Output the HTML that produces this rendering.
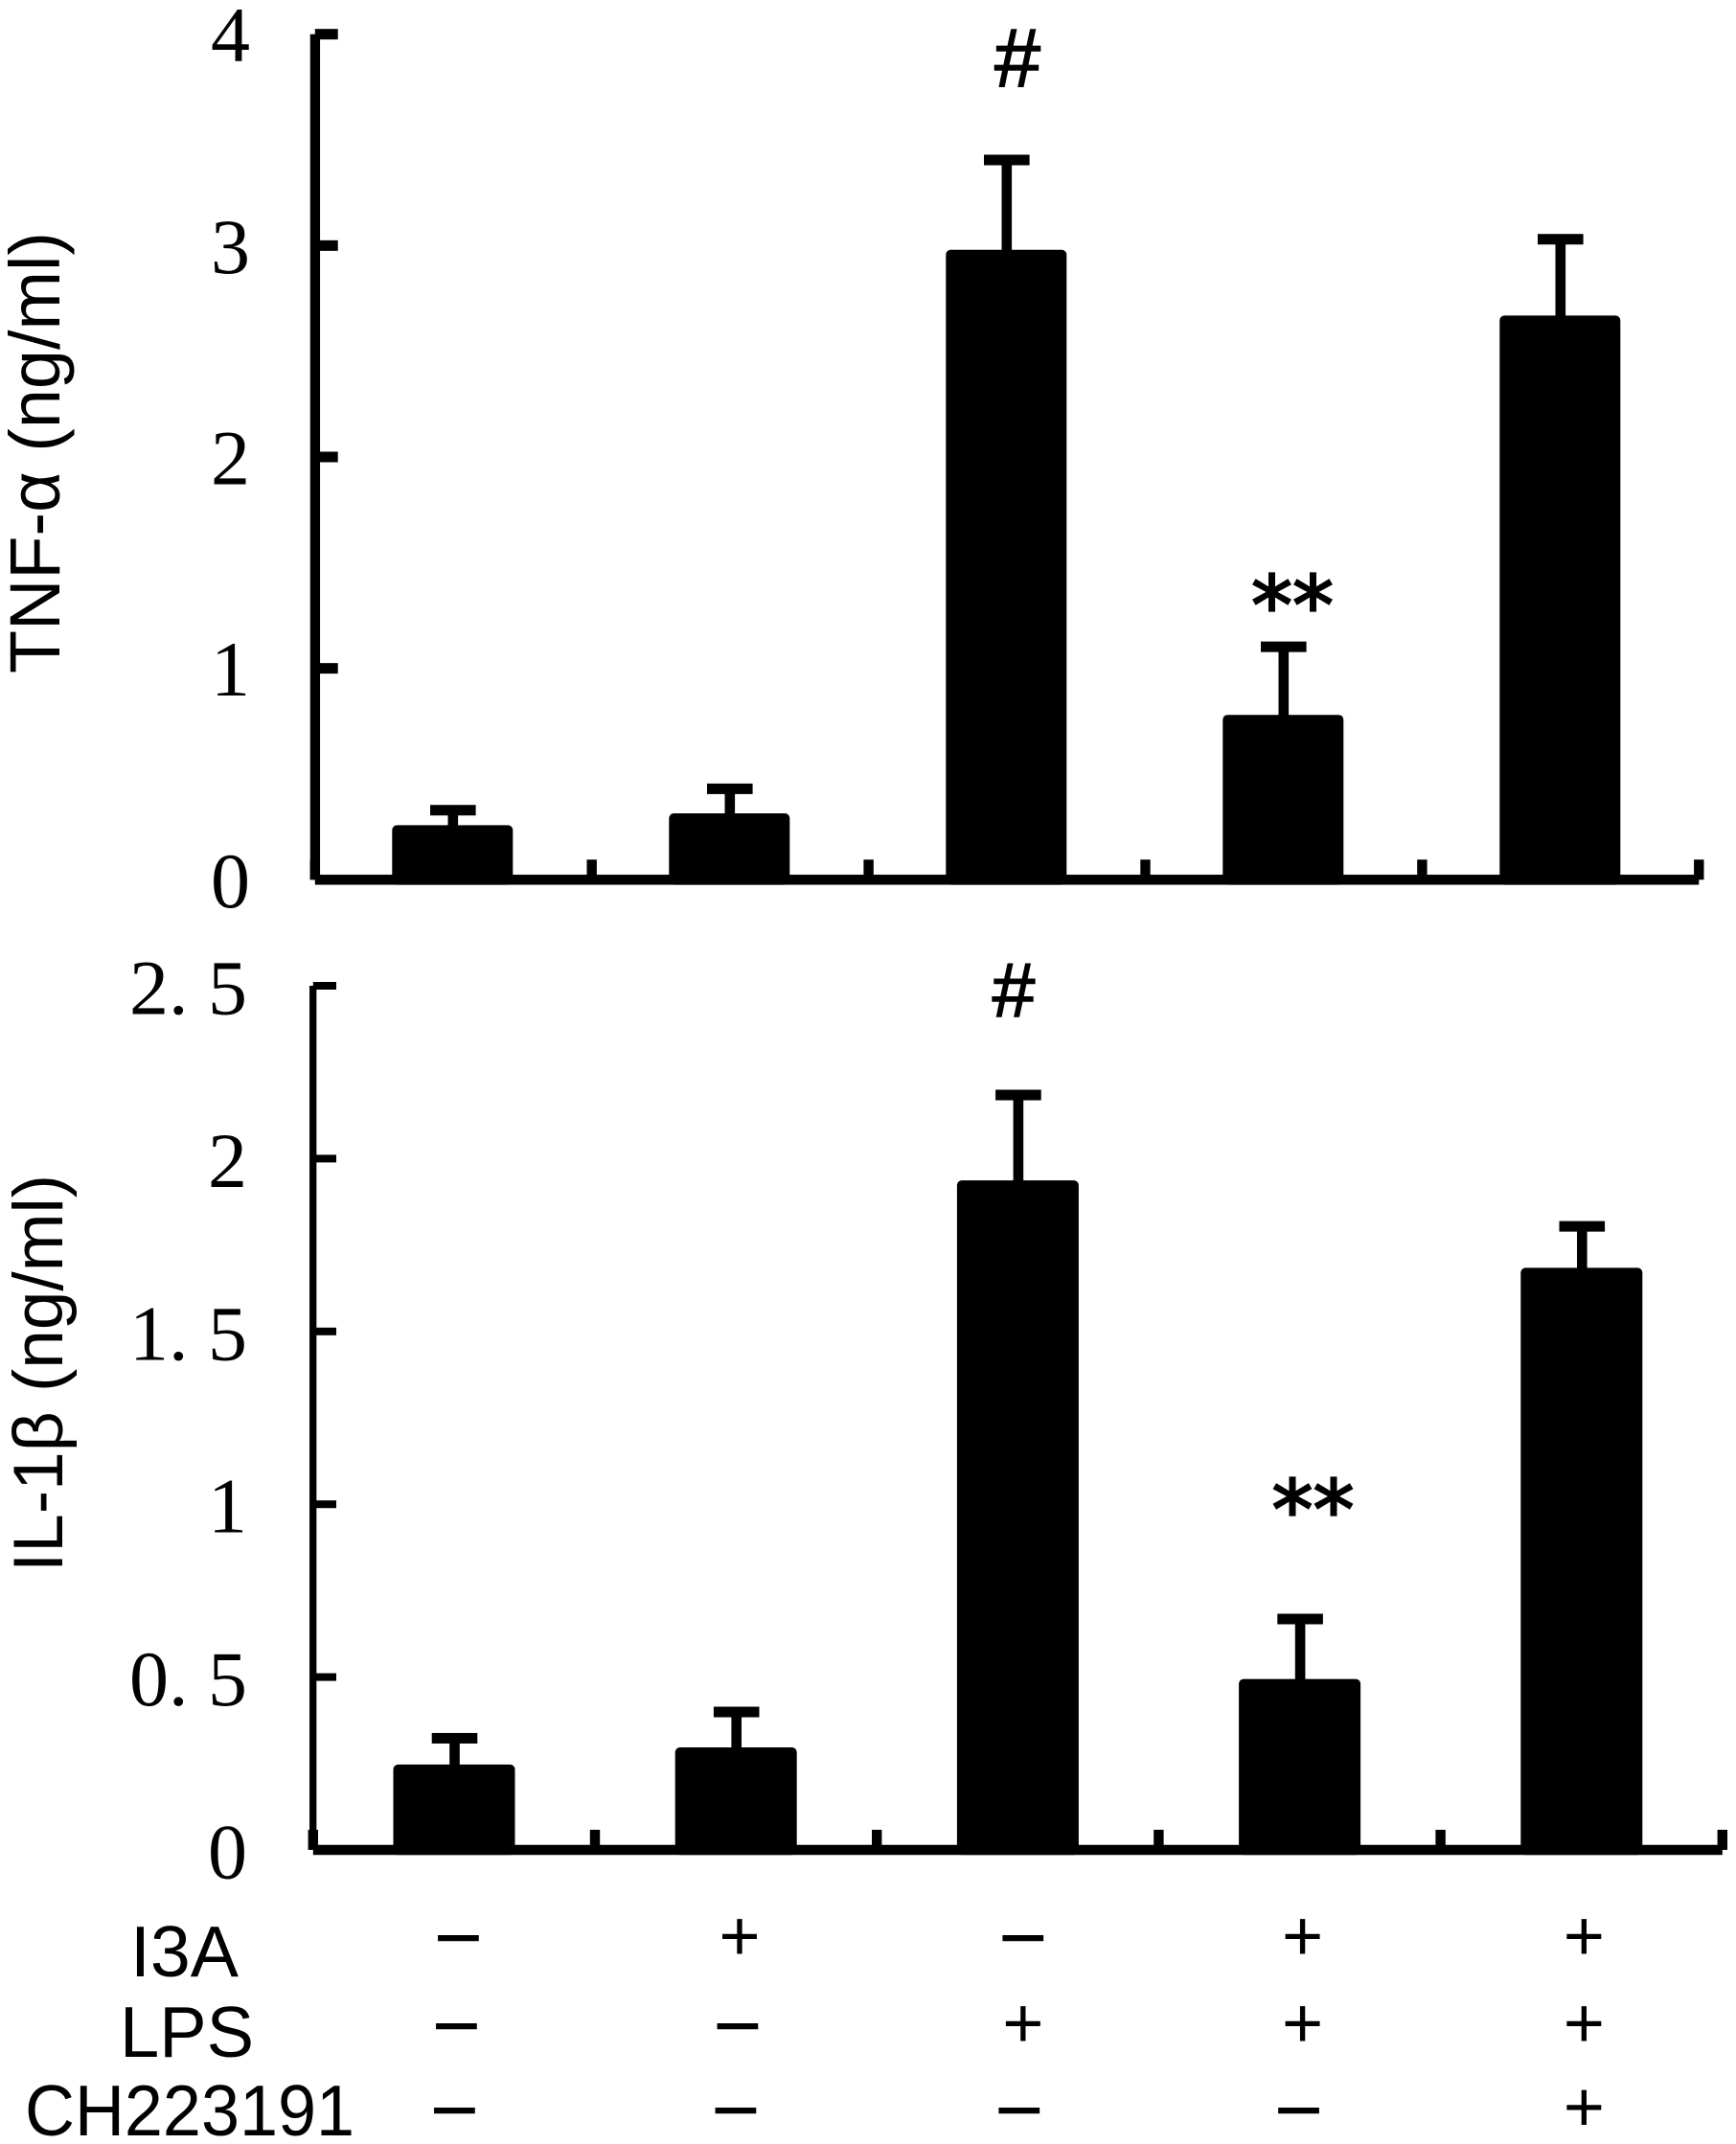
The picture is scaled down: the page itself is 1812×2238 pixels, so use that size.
<!DOCTYPE html>
<html lang="en">
<head>
<meta charset="utf-8">
<title>TNF-α and IL-1β bar charts</title>
<style>
  html, body { margin: 0; padding: 0; background: #fff; }
  svg { display: block; }
  .sans { font-family: "Liberation Sans", sans-serif; fill: #000; }
  .serif { font-family: "Liberation Serif", serif; fill: #000; }
  .star { font-family: "DejaVu Sans", sans-serif; fill: #000; stroke: #000; stroke-width: 2.2px; }
  .hash { font-family: "Liberation Sans", sans-serif; fill: #000; stroke: #000; stroke-width: 1.6px; }
</style>
</head>
<body>
<svg id="fig" xmlns="http://www.w3.org/2000/svg" width="1812" height="2238" viewBox="0 0 1812 2238">
  <rect width="1812" height="2238" fill="#fff"/>
  <text class="sans" font-size="74" transform="translate(62,703) rotate(-90)" textLength="461" lengthAdjust="spacingAndGlyphs">TNF-α (ng/ml)</text>
  <text class="sans" font-size="73" transform="translate(65,1641) rotate(-90)" textLength="415" lengthAdjust="spacingAndGlyphs">IL-1β (ng/ml)</text>
  <text class="sans" font-size="75" x="136" y="2063" textLength="113" lengthAdjust="spacingAndGlyphs">I3A</text>
  <text class="sans" font-size="75" x="125" y="2147" textLength="140" lengthAdjust="spacingAndGlyphs">LPS</text>
  <text class="sans" font-size="75" x="26" y="2229" textLength="344" lengthAdjust="spacingAndGlyphs">CH223191</text>
  <text class="hash" font-size="86" x="1062" y="90" text-anchor="middle">#</text>
  <text class="star" font-size="86" x="1349" y="662" text-anchor="middle">**</text>
  <text class="hash" font-size="80" x="1058" y="1061" text-anchor="middle">#</text>
  <text class="star" font-size="86" x="1370.5" y="1606" text-anchor="middle">**</text>
</svg>
<script>
// Chart data
const tnfMeans = [0.258, 0.314, 2.98, 0.78, 2.669];
const tnfErrorTops = [0.329, 0.43, 3.405, 1.102, 3.03];
const tnfTickValues = [0, 1, 2, 3, 4];
const tnfTickLabels = ['0', '1', '2', '3', '4'];

const il1bMeans = [0.247, 0.2966, 1.937, 0.4945, 1.684];
const il1bErrorTops = [0.323, 0.399, 2.184, 0.668, 1.804];
const il1bTickValues = [0, 0.5, 1, 1.5, 2, 2.5];
const il1bTickLabels = ['0', '0. 5', '1', '1. 5', '2', '2. 5'];

const i3aRow = ['−', '+', '−', '+', '+'];
const lpsRow = ['−', '−', '+', '+', '+'];
const chRow = ['−', '−', '−', '−', '+'];

const svg = document.getElementById('fig');
const NS = 'http://www.w3.org/2000/svg';

function rect(parent, x, y, w, h, rx) {
  const r = document.createElementNS(NS, 'rect');
  r.setAttribute('x', x);
  r.setAttribute('y', y);
  r.setAttribute('width', w);
  r.setAttribute('height', h);
  if (rx) r.setAttribute('rx', rx);
  r.setAttribute('fill', '#000');
  parent.appendChild(r);
  return r;
}

function drawChart(cfg) {
  const g = document.createElementNS(NS, 'g');
  
  
  svg.appendChild(g);

  const yScale = v => cfg.y0 - v * cfg.pxPerUnit;
  const xCenter = i => cfg.firstCenter + i * cfg.step;

  // y axis line
  const yTop = yScale(cfg.yMax);
  const yAxis = rect(g, cfg.axisX - cfg.axisW / 2, yTop, cfg.axisW, cfg.y0 - yTop);
  
  

  // x axis line
  const xAxis = rect(g, cfg.tickOrigin, cfg.y0 - 5.25, cfg.xEnd - cfg.tickOrigin, 10.5);
  
  

  // y ticks and labels
  cfg.tickValues.forEach((v, i) => {
    const ty = yScale(v);
    if (v !== 0) {
      const t = rect(g, cfg.tickOrigin, ty - cfg.yTickH / 2, cfg.tickEnd - cfg.tickOrigin, cfg.yTickH);
      
      
    }
    const label = document.createElementNS(NS, 'text');
    
    
    label.setAttribute('class', 'serif');
    label.setAttribute('font-size', '82');
    label.setAttribute('text-anchor', 'end');
    label.setAttribute('xml:space', 'preserve');
    label.setAttribute('x', cfg.labelRight);
    label.setAttribute('y', ty + cfg.labelOffset);
    label.textContent = cfg.tickLabels[i];
    g.appendChild(label);
  });

  // x ticks at category boundaries, including the origin
  for (let i = 0; i <= cfg.means.length; i++) {
    const tx = cfg.tickOrigin + i * cfg.tickStep;
    const t = rect(g, tx - 5.2, cfg.y0 - 21, 10.4, 21);
    
    
  }

  // bars and error bars
  cfg.means.forEach((m, i) => {
    const cx = xCenter(i);
    const top = yScale(m);
    const errTop = yScale(cfg.errorTops[i]);

    const stem = rect(g, cx + 0.5 - 5.3, errTop, 10.6, top - errTop + 3);
    
    

    const cap = rect(g, cx + 0.5 - 23.8, errTop - 5.5, 47.6, 11);
    
    

    const bar = rect(g, cx - cfg.barW / 2, top, cfg.barW, cfg.y0 + 5.3 - top, 5);
    
    
  });
}

drawChart({
  name: 'tnf',
  means: tnfMeans,
  errorTops: tnfErrorTops,
  tickValues: tnfTickValues,
  tickLabels: tnfTickLabels,
  yMax: 4,
  y0: 918.3,
  pxPerUnit: 220.65,
  axisX: 328.9,
  axisW: 10.3,
  yTickH: 11,
  tickOrigin: 328.8,
  tickStep: 288.9,
  tickEnd: 352.7,
  xEnd: 1773.3,
  firstCenter: 472.3,
  step: 289,
  barW: 126,
  labelRight: 261,
  labelOffset: 28.5
});

drawChart({
  name: 'il1b',
  means: il1bMeans,
  errorTops: il1bErrorTops,
  tickValues: il1bTickValues,
  tickLabels: il1bTickLabels,
  yMax: 2.5,
  y0: 1931,
  pxPerUnit: 360.8,
  axisX: 326.7,
  axisW: 7.3,
  yTickH: 8,
  tickOrigin: 326.8,
  tickStep: 294.2,
  tickEnd: 351,
  xEnd: 1797.8,
  firstCenter: 474,
  step: 294.2,
  barW: 127,
  labelRight: 258,
  labelOffset: 29.5
});

// Treatment sign table
const signColumnX = [478.4, 772, 1067.8, 1359.6, 1653.3];
const minusRowCenterY = [2025, 2117, 2205];
const plusRowCenterY = [2023, 2114, 2201.5];
const minusRowNudgeX = [0, -2, -4];
[i3aRow, lpsRow, chRow].forEach((row, r) => {
  row.forEach((s, c) => {
    const isMinus = s === '−';
    const size = isMinus ? 88 : 74;
    const t = document.createElementNS(NS, 'text');
    
    
    t.setAttribute('class', 'sans');
    t.setAttribute('font-size', size);
    t.setAttribute('text-anchor', 'middle');
    t.setAttribute('x', signColumnX[c] + (isMinus ? minusRowNudgeX[r] : 0));
    t.setAttribute('y', (isMinus ? minusRowCenterY[r] : plusRowCenterY[r]) + 0.31 * size);
    t.textContent = s;
    svg.appendChild(t);
  });
});
</script>
</body>
</html>
